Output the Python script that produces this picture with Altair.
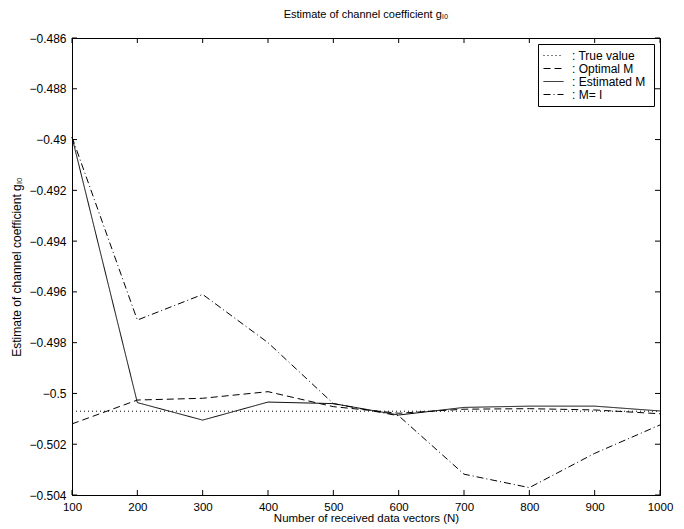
import altair as alt
import pandas as pd

N = [100, 200, 300, 400, 500, 600, 700, 800, 900, 1000]
true_value = [-0.5007] * 10
optimal_M = [-0.5012, -0.50026, -0.50019, -0.49993, -0.50052, -0.50078, -0.50062, -0.5006, -0.50065, -0.5008]
estimated_M = [-0.4899, -0.50036, -0.50105, -0.50034, -0.5004, -0.50085, -0.50055, -0.5005, -0.5005, -0.50069]
identity_M = [-0.4899, -0.49711, -0.4961, -0.4980, -0.5004, -0.50088, -0.50318, -0.50371, -0.50236, -0.50124]

series_names = [": True value", ": Optimal  M", ": Estimated  M", ": M= I"]
x_ticks = [100, 200, 300, 400, 500, 600, 700, 800, 900, 1000]
y_ticks = [-0.486, -0.488, -0.49, -0.492, -0.494, -0.496, -0.498, -0.5, -0.502, -0.504]

rows = []
for name, vals in zip(series_names, [true_value, optimal_M, estimated_M, identity_M]):
    for n, v in zip(N, vals):
        rows.append({"N": n, "value": v, "series": name})
df = pd.DataFrame(rows)

W, H = 588, 457
FONT = "Liberation Sans"

xscale = alt.Scale(domain=[100, 1000], nice=False, zero=False)
yscale = alt.Scale(domain=[-0.504, -0.486], nice=False, zero=False)

lines = alt.Chart(df).mark_line(color="black", strokeWidth=1).encode(
    x=alt.X("N:Q", scale=xscale,
            axis=alt.Axis(values=x_ticks, title="Number of received data vectors (N)",
                          format="d", labelFlush=False, labelPadding=6, titlePadding=0,
                          labelFontSize=11.5, titleFontSize=11.5)),
    y=alt.Y("value:Q", scale=yscale,
            axis=alt.Axis(values=y_ticks, title="Estimate of channel coefficient gₗ₀",
                          format="~g", labelPadding=6, titlePadding=5)),
    strokeDash=alt.StrokeDash(
        "series:N",
        scale=alt.Scale(domain=series_names,
                        range=[[1, 3], [7, 4], [1, 0], [7, 3, 1, 3]]),
        legend=alt.Legend(title=None, orient="top-right", offset=6, padding=5,
                          strokeColor="black", fillColor="white",
                          symbolType="stroke", symbolSize=400,
                          symbolStrokeColor="black", symbolStrokeWidth=1,
                          labelFont=FONT, labelFontSize=12, labelColor="black",
                          rowPadding=0, clipHeight=13, labelOffset=8),
    ),
    detail="series:N",
)

xt = pd.DataFrame({"t": x_ticks})
yt = pd.DataFrame({"t": y_ticks})
tick_x_bottom = alt.Chart(xt).mark_rule(color="black").encode(
    x=alt.X("t:Q", scale=xscale), y=alt.value(H), y2=alt.value(H - 5))
tick_x_top = alt.Chart(xt).mark_rule(color="black").encode(
    x=alt.X("t:Q", scale=xscale), y=alt.value(0), y2=alt.value(5))
tick_y_left = alt.Chart(yt).mark_rule(color="black").encode(
    y=alt.Y("t:Q", scale=yscale), x=alt.value(0), x2=alt.value(5))
tick_y_right = alt.Chart(yt).mark_rule(color="black").encode(
    y=alt.Y("t:Q", scale=yscale), x=alt.value(W), x2=alt.value(W - 5))

chart = alt.layer(lines, tick_x_bottom, tick_x_top, tick_y_left, tick_y_right).properties(
    width=W, height=H,
    title=alt.TitleParams("Estimate of channel coefficient gₗ₀", font=FONT, fontSize=11,
                          fontWeight="normal", color="black", offset=12),
    autosize=alt.AutoSizeParams(type="none"),
    padding={"left": 72, "top": 38, "right": 24, "bottom": 34},
).configure_view(stroke="black", strokeWidth=1).configure_axis(
    grid=False, domainColor="black", domainWidth=1, tickSize=0,
    labelFont=FONT, labelFontSize=12, labelColor="black",
    titleFont=FONT, titleFontSize=12, titleFontWeight="normal", titleColor="black",
)

chart.save("out.html", embed_options={"renderer": "svg", "actions": False})
